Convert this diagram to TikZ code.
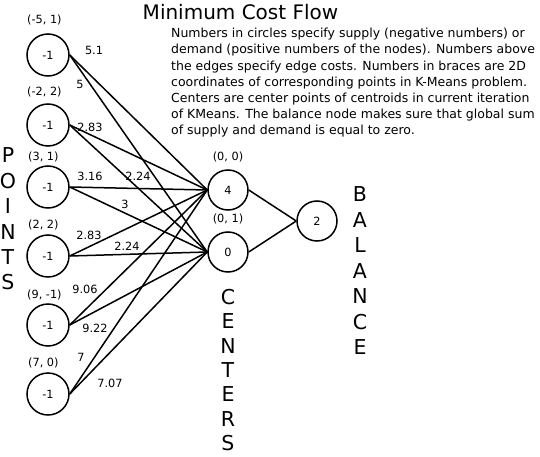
\documentclass[tikz,border=0pt]{standalone}
\usepackage{fontspec}
\setmainfont{DejaVu Sans}
\begin{document}
\begin{tikzpicture}[x=1pt,y=-1pt,
  pnode/.style={draw,circle,line width=1.5pt,minimum size=42pt,inner sep=0pt,font=\fontsize{11.3}{13}\selectfont},
  cnode/.style={draw,circle,line width=1.5pt,minimum size=40pt,inner sep=0pt,font=\fontsize{11.3}{13}\selectfont},
  lbl/.style={inner sep=0pt,font=\fontsize{11.3}{13}\selectfont},
  coordlbl/.style={inner sep=0pt,anchor=west,font=\fontsize{11.3}{13}\selectfont},
  edge/.style={line width=1.5pt},
  vert/.style={inner sep=0pt,align=center,font=\fontsize{20.5}{25.4}\selectfont}
]
\useasboundingbox (0,0) rectangle (540,457);
% point nodes
\node[pnode] (p1) at (48,55) {-1};
\node[pnode] (p2) at (48,125) {-1};
\node[pnode] (p3) at (48,187) {-1};
\node[pnode] (p4) at (48,256) {-1};
\node[pnode] (p5) at (48,325) {-1};
\node[pnode] (p6) at (48,394) {-1};
% centers
\node[cnode] (c0) at (228,190) {4};
\node[cnode] (c1) at (228,252) {0};
% balance
\node[cnode] (b) at (317,221) {2};
% coordinate labels
\node[coordlbl] (l1) at (27,20) {(-5, 1)};
\node[coordlbl] (l2) at (27,92) {(-2, 2)};
\node[coordlbl] (l3) at (28,157) {(3, 1)};
\node[coordlbl] (l4) at (28,225) {(2, 2)};
\node[coordlbl] (l5) at (27,295) {(9, -1)};
\node[coordlbl] (l6) at (28,363) {(7, 0)};
\node[lbl] (lc0) at (228,157) {(0, 0)};
\node[lbl] (lc1) at (228,219) {(0, 1)};
% edges
\foreach \p in {p1,p2,p3,p4,p5,p6}{
  \draw[edge] (\p.east) -- (c0.west);
  \draw[edge] (\p.east) -- (c1.west);
}
\draw[edge] (c0.east) -- (b.west);
\draw[edge] (c1.east) -- (b.west);
% edge cost labels
\node[lbl] (e1) at (94,50) {5.1};
\node[lbl] (e2) at (80,84) {5};
\node[lbl] (e3) at (90,127) {2.83};
\node[lbl] (e4) at (90,176) {3.16};
\node[lbl] (e5) at (138,176) {2.24};
\node[lbl] (e6) at (125,204) {3};
\node[lbl] (e7) at (89,235) {2.83};
\node[lbl] (e8) at (127,246) {2.24};
\node[lbl] (e9) at (85,289) {9.06};
\node[lbl] (e10) at (95,328) {9.22};
\node[lbl] (e11) at (81,357) {7};
\node[lbl] (e12) at (110,383) {7.07};
% vertical words
\node[vert] (wp) at (8,219) {P\\O\\I\\N\\T\\S};
\node[vert,font=\fontsize{20.5}{24.3}\selectfont] (wc) at (228,370) {C\\E\\N\\T\\E\\R\\S};
\node[vert,font=\fontsize{20.5}{25.5}\selectfont] (wb) at (360,271) {B\\A\\L\\A\\N\\C\\E};
% title and text
\node[inner sep=0pt,font=\fontsize{20}{22}\selectfont] (title) at (240.5,12) {Minimum Cost Flow};
\node[inner sep=0pt,anchor=north west,align=left,font=\fontsize{12.5}{16.2}\selectfont] (desc) at (171,28)
{Numbers in circles specify supply (negative numbers) or\\
demand (positive numbers of the nodes). Numbers above\\
the edges specify edge costs. Numbers in braces are 2D\\
coordinates of corresponding points in K-Means problem.\\
Centers are center points of centroids in current iteration\\
of KMeans. The balance node makes sure that global sum\\
of supply and demand is equal to zero.};
\end{tikzpicture}
\end{document}
